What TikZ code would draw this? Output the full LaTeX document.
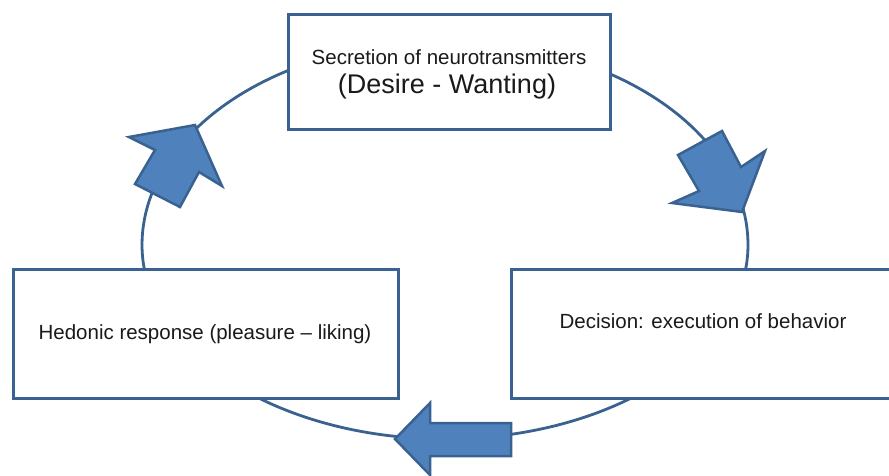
\documentclass[tikz,border=0pt]{standalone}
\usepackage{fontspec}
\setmainfont{Liberation Sans}
\definecolor{edge}{HTML}{3A6290}
\definecolor{fillb}{HTML}{4F81BD}
\definecolor{txtc}{HTML}{1A1A1A}
\begin{document}
\begin{tikzpicture}[x=1pt,y=-1pt,
  box/.style={draw=edge, line width=3pt, fill=white, inner sep=0pt},
  lbl/.style={anchor=base, text=txtc, font=\fontsize{20.5}{24}\selectfont, inner sep=0pt},
  big/.style={anchor=base, text=txtc, font=\fontsize{27}{31}\selectfont, inner sep=0pt},
  cyc/.style={draw=edge, line width=2.8pt},
  blk/.style={draw=edge, fill=fillb, line width=2.5pt, line join=miter}]
\useasboundingbox (0,0) rectangle (889,475);
\clip (0,0) rectangle (889,475);
% cycle line
\draw[cyc] plot[domain=0:180, samples=90, smooth] ({445+303*cos(\x)},{245-204*sin(\x)});
\draw[cyc] plot[domain=0:180, samples=90, smooth] ({445+303*cos(\x)},{245+194*sin(\x)});
% boxes
\node[box, minimum width=322pt, minimum height=115pt] (secretion) at (449.5,72) {};
\node[box, minimum width=385pt, minimum height=129pt] (hedonic) at (206,334) {};
\node[box, minimum width=384pt, minimum height=129pt] (decision) at (703.5,334) {};
% texts
\node[lbl] (t1) at (449,64) {Secretion of neurotransmitters};
\node[big] (t2) at (447,93) {(Desire - Wanting)};
\node[lbl] (t3) at (205,339) {Hedonic response (pleasure – liking)};
\node[lbl] (t4) at (703,328) {Decision: execution of behavior};
% block arrows
\draw[blk] (195,125) -- (222,186) -- (199,172) -- (180,207) -- (135,184) -- (155,150) -- (129,137) -- cycle;
\draw[blk] (742,212) -- (765,151) -- (741,167) -- (722,131) -- (678,155) -- (699,191) -- (672,203) -- cycle;
\draw[blk] (395,439) -- (430,403) -- (430,423) -- (511,423) -- (511,456) -- (430,456) -- (430,475) -- cycle;
\end{tikzpicture}
\end{document}
